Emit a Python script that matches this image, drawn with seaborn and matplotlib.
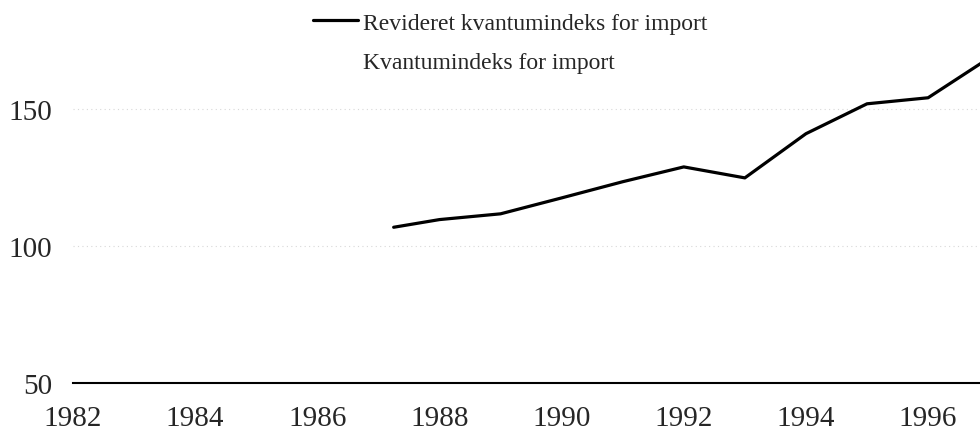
import matplotlib.pyplot as plt
from matplotlib.lines import Line2D
import pandas as pd
import seaborn as sns

# revised import volume index
years = [1987.25, 1988, 1989, 1990, 1991, 1992, 1993, 1994, 1995, 1996, 1997]
revised = [106.8, 109.6, 111.7, 117.5, 123.4, 128.8, 124.8, 140.9, 151.8, 154.0, 168.5]

x_ticks = list(range(1982, 1997, 2))
y_ticks = [50, 100, 150]

label_rev = 'Revideret kvantumindeks for import'
label_old = 'Kvantumindeks for import'

sns.set_style('white')
plt.rcParams['font.family'] = ['Liberation Serif', 'DejaVu Serif']

df = pd.DataFrame({'year': years, 'index': revised})

fig = plt.figure(figsize=(9.8, 4.35), dpi=100)
ax = fig.add_axes([0.0745, 0.117, 0.9255, 0.883])

sns.lineplot(data=df, x='year', y='index', color='black', linewidth=2.3, ax=ax)

for v in [100, 150]:
    ax.axhline(v, color='#d8d8d8', linestyle=(0, (1, 3)), linewidth=0.8, zorder=0)

ax.set_xlim(1982, 1996.85)
ax.set_ylim(50, 190)
ax.set_xticks(x_ticks)
ax.set_yticks(y_ticks)
ax.set_xlabel('')
ax.set_ylabel('')

for side in ['left', 'top', 'right']:
    ax.spines[side].set_visible(False)
ax.spines['bottom'].set_color('black')
ax.spines['bottom'].set_linewidth(1.5)

ax.tick_params(axis='x', direction='out', length=5, width=0.8, color='#555555',
               labelsize=21, pad=11)
ax.tick_params(axis='y', length=0, labelsize=21, pad=15)

handles = [Line2D([], [], color='black', linewidth=2.3),
           Line2D([], [], color='white', linewidth=0)]
fig.legend(handles, [label_rev, label_old], loc='upper left',
           bbox_to_anchor=(313 / 980, 1 - 13 / 435), frameon=False,
           fontsize=17, handlelength=1.9, handletextpad=0.2,
           labelspacing=0.78, borderpad=0, borderaxespad=0)

fig.savefig('out.png', dpi=100)
